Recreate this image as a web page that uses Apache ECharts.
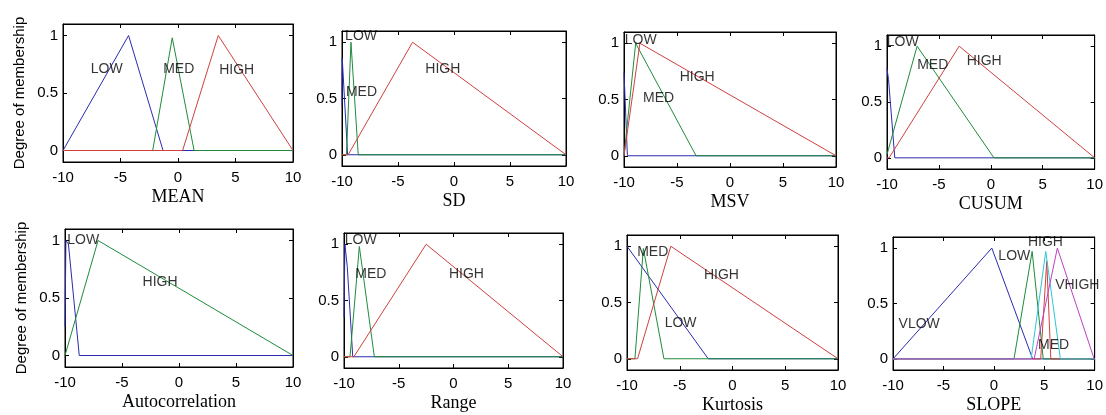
<!DOCTYPE html>
<html>
<head>
<meta charset="utf-8">
<script src="https://cdn.jsdelivr.net/npm/echarts@6/dist/echarts.min.js"></script>
<style>
  html, body { margin: 0; padding: 0; background: #fff; }
  #main { width: 1106px; height: 415px; }
</style>
</head>
<body>
<div id="main"></div>
<script>
// 各个输入变量的隶属度函数 (x, membership)
var meanLow  = [[-10, 0], [-4.3, 1], [-1.3, 0], [10, 0]];
var meanMed  = [[-10, 0], [-2.2, 0], [-0.5, 0.98], [1.4, 0], [10, 0]];
var meanHigh = [[-10, 0], [0.4, 0], [3.5, 1], [10, 0]];

var sdLow  = [[-10, 0.44], [-9.98, 0.86], [-9.5, 0], [10, 0]];
var sdMed  = [[-10, 0], [-9.6, 0], [-9.2, 1], [-8.55, 0], [10, 0]];
var sdHigh = [[-10, 0], [-9.45, 0], [-3.7, 1], [10, 0]];

var msvLow  = [[-10, 0.74], [-9.68, 0], [10, 0]];
var msvMed  = [[-10, 0], [-8.9, 1], [-3.2, 0], [10, 0]];
var msvHigh = [[-10, 0], [-8.5, 1], [10, 0]];

var cusumLow  = [[-10, 0.8], [-9.85, 0.7], [-9.25, 0], [10, 0]];
var cusumMed  = [[-10, 0.03], [-7.1, 1], [0.3, 0], [10, 0]];
var cusumHigh = [[-10, 0], [-9.8, 0], [-3.05, 1], [10, 0]];

var acLow  = [[-10, 0.25], [-9.92, 1], [-9.7, 0.97], [-8.75, 0], [10, 0]];
var acHigh = [[-10, 0], [-7.1, 1], [10, 0]];

var rangeLow  = [[-10, 0.35], [-9.92, 1], [-9.7, 0.8], [-9.2, 0], [10, 0]];
var rangeMed  = [[-10, 0], [-9.45, 0], [-8.6, 0.98], [-7.23, 0], [10, 0]];
var rangeHigh = [[-10, 0], [-9.1, 0], [-2.5, 1], [10, 0]];

var kurtLow  = [[-10, 1], [-2.3, 0], [10, 0]];
var kurtMed  = [[-10, 0], [-9.25, 0], [-8.45, 0.98], [-6.5, 0], [10, 0]];
var kurtHigh = [[-10, 0], [-9, 0], [-5.85, 1], [10, 0]];

var slopeVlow  = [[-10, 0], [-0.2, 1], [3.85, 0], [10, 0]];
var slopeLow   = [[-10, 0], [2.0, 0], [3.8, 0.97], [4.9, 0], [10, 0]];
var slopeMed   = [[-10, 0], [4.65, 0], [5.25, 0.88], [5.65, 0], [10, 0]];
var slopeHigh  = [[-10, 0], [3.7, 0], [5.15, 0.97], [6.6, 0], [10, 0]];
var slopeVhigh = [[-10, 0], [4.0, 0], [6.3, 1], [9.95, 0], [10, 0]];

// 文字标注位置 [x, y, 文本]
var meanLabels  = [[-6.2, 0.71, 'LOW'], [0.06, 0.71, 'MED'], [5.1, 0.70, 'HIGH']];
var sdLabels    = [[-8.3, 1.05, 'LOW'], [-8.26, 0.56, 'MED'], [-1.0, 0.76, 'HIGH']];
var msvLabels   = [[-8.42, 1.03, 'LOW'], [-6.73, 0.51, 'MED'], [-3.1, 0.70, 'HIGH']];
var cusumLabels = [[-8.48, 1.04, 'LOW'], [-5.6, 0.83, 'MED'], [-0.64, 0.87, 'HIGH']];
var acLabels    = [[-8.4, 1.0, 'LOW'], [-1.66, 0.64, 'HIGH']];
var rangeLabels = [[-8.47, 1.04, 'LOW'], [-7.55, 0.73, 'MED'], [1.18, 0.735, 'HIGH']];
var kurtLabels  = [[-7.56, 0.95, 'MED'], [-1.05, 0.74, 'HIGH'], [-4.92, 0.32, 'LOW']];
var slopeLabels = [[-7.4, 0.31, 'VLOW'], [2.03, 0.93, 'LOW'], [5.12, 1.05, 'HIGH'],
                   [8.28, 0.67, 'VHIGH'], [5.93, 0.12, 'MED']];

var yTicks = [0, 0.5, 1];

var BLUE = '#2b2bb0', GREEN = '#1e8c3a', RED = '#d04040', CYAN = '#2cc8d8', MAGENTA = '#c040c0';

var panels = [
    { name: 'MEAN', box: [63, 24, 230, 138], curves: [[meanLow, BLUE], [meanMed, GREEN], [meanHigh, RED]], labels: meanLabels, yName: true },
    { name: 'SD', box: [342, 31, 224, 135], curves: [[sdLow, BLUE], [sdMed, GREEN], [sdHigh, RED]], labels: sdLabels },
    { name: 'MSV', box: [624, 32, 212, 135], curves: [[msvLow, BLUE], [msvMed, GREEN], [msvHigh, RED]], labels: msvLabels },
    { name: 'CUSUM', box: [887, 35, 210, 134], curves: [[cusumLow, BLUE], [cusumMed, GREEN], [cusumHigh, RED]], labels: cusumLabels },
    { name: 'Autocorrelation', box: [65, 229, 228, 138], curves: [[acLow, BLUE], [acHigh, GREEN]], labels: acLabels, yName: true },
    { name: 'Range', box: [344, 233, 219, 135], curves: [[rangeLow, BLUE], [rangeMed, GREEN], [rangeHigh, RED]], labels: rangeLabels },
    { name: 'Kurtosis', box: [627, 235, 211, 137], curves: [[kurtLow, BLUE], [kurtMed, GREEN], [kurtHigh, RED]], labels: kurtLabels },
    { name: 'SLOPE', box: [893, 237, 205, 135],
      curves: [[slopeVlow, BLUE], [slopeLow, GREEN], [slopeMed, RED], [slopeHigh, CYAN], [slopeVhigh, MAGENTA]],
      labels: slopeLabels }
];

var myChart = echarts.init(document.getElementById('main'));

var grid = [], xAxis = [], yAxis = [], series = [];
var tickStyle = { show: true, inside: true, length: 4, lineStyle: { color: '#000' } };
var lineStyle = { show: true, onZero: false, lineStyle: { color: '#000' } };

panels.forEach(function (p, i) {
    grid.push({
        left: p.box[0], top: p.box[1], width: p.box[2], height: p.box[3],
        show: true, borderColor: '#000', borderWidth: 1, backgroundColor: '#fff'
    });

    // 下方 x 轴 (带刻度文字)
    xAxis.push({
        gridIndex: i, type: 'value', min: -10, max: 10, interval: 5, position: 'bottom',
        name: p.name, nameLocation: 'middle', nameGap: 26,
        nameTextStyle: { fontFamily: 'Liberation Serif', fontSize: 18, color: '#000' },
        axisLine: lineStyle,
        axisTick: tickStyle,
        axisLabel: { margin: 8, fontFamily: 'Liberation Sans', fontSize: 15, color: '#000' },
        splitLine: { show: false }
    });
    // 上方 x 轴 (只有刻度)
    xAxis.push({
        gridIndex: i, type: 'value', min: -10, max: 10, interval: 5, position: 'top',
        axisLine: lineStyle, axisTick: tickStyle,
        axisLabel: { show: false }, splitLine: { show: false }
    });

    yAxis.push({
        gridIndex: i, type: 'value', min: -0.1, max: 1.1, position: 'left',
        name: p.yName ? 'Degree of membership' : '', nameLocation: 'middle', nameGap: 36,
        nameTextStyle: { fontFamily: 'Liberation Sans', fontSize: 15, color: '#000' },
        axisLine: lineStyle,
        axisTick: Object.assign({ customValues: yTicks }, tickStyle),
        axisLabel: { customValues: yTicks, margin: 5, fontFamily: 'Liberation Sans', fontSize: 15, color: '#000' },
        splitLine: { show: false }
    });
    yAxis.push({
        gridIndex: i, type: 'value', min: -0.1, max: 1.1, position: 'right',
        axisLine: lineStyle,
        axisTick: Object.assign({ customValues: yTicks }, tickStyle),
        axisLabel: { show: false }, splitLine: { show: false }
    });

    p.curves.forEach(function (c) {
        series.push({
            type: 'line', xAxisIndex: i * 2, yAxisIndex: i * 2,
            data: c[0], showSymbol: false, symbol: 'none', animation: false,
            lineStyle: { color: c[1], width: 1 }
        });
    });

    series.push({
        type: 'scatter', xAxisIndex: i * 2, yAxisIndex: i * 2,
        symbolSize: 0, animation: false, silent: true, z: 5,
        data: p.labels.map(function (l) { return { value: [l[0], l[1]], name: l[2] }; }),
        label: {
            show: true, position: 'inside', formatter: '{b}',
            fontFamily: 'Liberation Sans', fontSize: 14, color: '#000'
        }
    });
});

var option = {
    backgroundColor: '#fff',
    animation: false,
    grid: grid,
    xAxis: xAxis,
    yAxis: yAxis,
    series: series
};

myChart.setOption(option);
</script>
</body>
</html>
